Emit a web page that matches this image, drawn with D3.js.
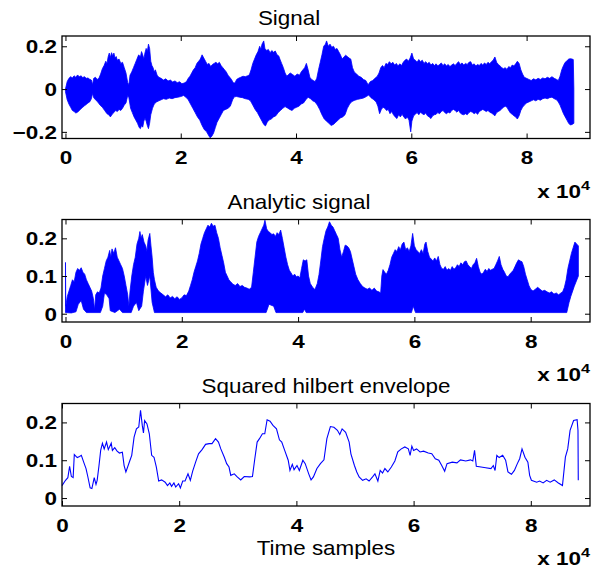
<!DOCTYPE html>
<html>
<head>
<meta charset="utf-8">
<script src="https://cdn.jsdelivr.net/npm/d3@7"></script>
<style>
  body { margin: 0; background: #fff; }
  text { font-family: "Liberation Sans", Arial, sans-serif; }
</style>
</head>
<body>
<div id="chart"></div>
<script>
// x values are in units of 1e4 samples
var sigUpper = [[0,0],[0.03,0.035],[0.06,0.05],[0.09,0.058],[0.12,0.052],[0.15,0.062],[0.18,0.055],[0.21,0.066],[0.24,0.058],[0.27,0.062],[0.3,0.054],[0.33,0.058],[0.36,0.05],[0.39,0.052],[0.42,0.046],[0.45,0.042],[0.47,0.02],[0.49,0.05],[0.52,0.055],[0.55,0.045],[0.58,0.05],[0.61,0.07],[0.64,0.095],[0.67,0.11],[0.7,0.13],[0.72,0.118],[0.74,0.15],[0.76,0.168],[0.78,0.148],[0.8,0.17],[0.82,0.155],[0.84,0.168],[0.86,0.145],[0.88,0.152],[0.9,0.135],[0.93,0.14],[0.96,0.12],[0.99,0.125],[1.02,0.1],[1.05,0.075],[1.08,0.03],[1.1,0.02],[1.12,0.065],[1.15,0.08],[1.18,0.1],[1.21,0.12],[1.24,0.14],[1.27,0.16],[1.3,0.15],[1.32,0.175],[1.34,0.16],[1.36,0.14],[1.38,0.17],[1.4,0.19],[1.42,0.175],[1.44,0.21],[1.46,0.19],[1.48,0.13],[1.5,0.11],[1.52,0.1],[1.54,0.08],[1.56,0.09],[1.59,0.065],[1.62,0.055],[1.66,0.05],[1.7,0.042],[1.74,0.048],[1.78,0.038],[1.82,0.042],[1.86,0.033],[1.9,0.038],[1.94,0.03],[1.98,0.034],[2.02,0.025],[2.06,0.028],[2.1,0.035],[2.13,0.05],[2.16,0.06],[2.19,0.075],[2.22,0.09],[2.25,0.1],[2.28,0.12],[2.31,0.13],[2.34,0.14],[2.37,0.16],[2.4,0.145],[2.43,0.13],[2.46,0.115],[2.49,0.12],[2.52,0.105],[2.55,0.115],[2.58,0.12],[2.61,0.125],[2.64,0.118],[2.67,0.125],[2.7,0.11],[2.73,0.1],[2.76,0.09],[2.79,0.08],[2.82,0.065],[2.85,0.055],[2.88,0.045],[2.91,0.03],[2.94,0.028],[2.97,0.045],[3,0.05],[3.04,0.055],[3.08,0.06],[3.12,0.058],[3.16,0.062],[3.19,0.066],[3.22,0.09],[3.25,0.12],[3.28,0.14],[3.31,0.16],[3.34,0.175],[3.37,0.2],[3.39,0.185],[3.41,0.21],[3.44,0.225],[3.46,0.19],[3.49,0.18],[3.52,0.185],[3.55,0.17],[3.58,0.18],[3.61,0.172],[3.64,0.178],[3.67,0.16],[3.7,0.155],[3.72,0.14],[3.75,0.12],[3.78,0.1],[3.81,0.075],[3.84,0.06],[3.87,0.068],[3.9,0.075],[3.94,0.068],[3.98,0.06],[4.02,0.07],[4.06,0.065],[4.09,0.08],[4.12,0.09],[4.15,0.1],[4.18,0.12],[4.21,0.09],[4.24,0.055],[4.27,0.045],[4.3,0.04],[4.33,0.035],[4.36,0.05],[4.39,0.09],[4.42,0.125],[4.45,0.16],[4.48,0.2],[4.51,0.21],[4.53,0.225],[4.56,0.2],[4.59,0.21],[4.62,0.195],[4.65,0.2],[4.68,0.185],[4.71,0.19],[4.74,0.175],[4.77,0.16],[4.8,0.14],[4.83,0.15],[4.86,0.158],[4.89,0.152],[4.92,0.145],[4.95,0.14],[4.98,0.1],[5.01,0.08],[5.05,0.07],[5.09,0.06],[5.13,0.055],[5.17,0.045],[5.21,0.04],[5.25,0.02],[5.29,0.035],[5.33,0.04],[5.37,0.05],[5.41,0.06],[5.44,0.075],[5.47,0.1],[5.5,0.11],[5.53,0.1],[5.56,0.12],[5.59,0.115],[5.62,0.128],[5.65,0.118],[5.68,0.125],[5.71,0.112],[5.74,0.12],[5.77,0.108],[5.8,0.118],[5.83,0.11],[5.86,0.125],[5.89,0.135],[5.92,0.14],[5.95,0.13],[5.98,0.145],[6.01,0.168],[6.04,0.14],[6.07,0.135],[6.1,0.125],[6.13,0.138],[6.16,0.128],[6.19,0.135],[6.22,0.12],[6.25,0.128],[6.28,0.118],[6.31,0.125],[6.34,0.112],[6.37,0.12],[6.4,0.11],[6.43,0.118],[6.46,0.108],[6.49,0.115],[6.52,0.122],[6.55,0.11],[6.58,0.118],[6.61,0.108],[6.64,0.115],[6.67,0.105],[6.7,0.112],[6.73,0.118],[6.76,0.11],[6.79,0.12],[6.82,0.128],[6.85,0.115],[6.88,0.122],[6.91,0.112],[6.94,0.12],[6.97,0.115],[7,0.125],[7.03,0.128],[7.06,0.112],[7.09,0.118],[7.12,0.108],[7.15,0.115],[7.18,0.11],[7.21,0.12],[7.24,0.112],[7.27,0.122],[7.3,0.115],[7.33,0.125],[7.36,0.118],[7.39,0.128],[7.42,0.135],[7.45,0.15],[7.48,0.125],[7.51,0.115],[7.54,0.108],[7.57,0.1],[7.6,0.095],[7.63,0.1],[7.66,0.092],[7.69,0.105],[7.72,0.1],[7.75,0.112],[7.78,0.108],[7.81,0.118],[7.84,0.13],[7.87,0.12],[7.9,0.09],[7.93,0.07],[7.96,0.055],[8,0.05],[8.04,0.045],[8.08,0.04],[8.12,0.048],[8.16,0.043],[8.2,0.05],[8.24,0.045],[8.28,0.052],[8.32,0.048],[8.36,0.055],[8.4,0.05],[8.44,0.058],[8.48,0.05],[8.52,0.045],[8.55,0.04],[8.58,0.06],[8.61,0.09],[8.64,0.11],[8.67,0.125],[8.7,0.132],[8.73,0.14],[8.76,0.142],[8.79,0.14],[8.81,0.138],[8.82,0]];
var sigLower = [[0,-0.012],[0.03,-0.05],[0.06,-0.07],[0.09,-0.085],[0.12,-0.1],[0.15,-0.105],[0.18,-0.112],[0.21,-0.108],[0.24,-0.1],[0.27,-0.092],[0.3,-0.085],[0.33,-0.078],[0.36,-0.072],[0.39,-0.065],[0.42,-0.06],[0.45,-0.045],[0.47,-0.02],[0.49,-0.04],[0.52,-0.05],[0.56,-0.06],[0.6,-0.075],[0.64,-0.085],[0.68,-0.1],[0.72,-0.115],[0.75,-0.12],[0.78,-0.13],[0.81,-0.118],[0.84,-0.11],[0.87,-0.1],[0.9,-0.105],[0.93,-0.095],[0.96,-0.1],[0.99,-0.09],[1.02,-0.075],[1.05,-0.065],[1.08,-0.03],[1.1,-0.04],[1.13,-0.09],[1.16,-0.11],[1.19,-0.13],[1.22,-0.145],[1.25,-0.16],[1.28,-0.18],[1.3,-0.185],[1.32,-0.17],[1.34,-0.178],[1.36,-0.15],[1.38,-0.135],[1.4,-0.15],[1.42,-0.17],[1.44,-0.185],[1.46,-0.16],[1.48,-0.12],[1.51,-0.09],[1.54,-0.07],[1.58,-0.06],[1.62,-0.055],[1.66,-0.05],[1.7,-0.045],[1.75,-0.048],[1.8,-0.042],[1.85,-0.045],[1.9,-0.04],[1.95,-0.038],[2,-0.035],[2.05,-0.03],[2.09,-0.038],[2.13,-0.05],[2.17,-0.07],[2.21,-0.09],[2.25,-0.11],[2.29,-0.13],[2.33,-0.145],[2.37,-0.17],[2.41,-0.19],[2.45,-0.2],[2.48,-0.215],[2.51,-0.228],[2.54,-0.22],[2.57,-0.205],[2.6,-0.18],[2.63,-0.155],[2.66,-0.14],[2.7,-0.12],[2.74,-0.1],[2.78,-0.095],[2.82,-0.09],[2.86,-0.08],[2.9,-0.05],[2.93,-0.036],[2.97,-0.035],[3.02,-0.038],[3.07,-0.04],[3.12,-0.045],[3.17,-0.048],[3.21,-0.055],[3.25,-0.075],[3.29,-0.095],[3.33,-0.11],[3.37,-0.13],[3.41,-0.15],[3.44,-0.165],[3.47,-0.172],[3.5,-0.155],[3.53,-0.145],[3.57,-0.14],[3.61,-0.13],[3.65,-0.125],[3.69,-0.11],[3.73,-0.1],[3.77,-0.09],[3.81,-0.082],[3.85,-0.088],[3.89,-0.095],[3.93,-0.1],[3.97,-0.09],[4.01,-0.085],[4.05,-0.08],[4.09,-0.07],[4.13,-0.065],[4.17,-0.05],[4.21,-0.038],[4.25,-0.045],[4.29,-0.055],[4.33,-0.06],[4.37,-0.075],[4.41,-0.095],[4.45,-0.12],[4.49,-0.14],[4.53,-0.15],[4.57,-0.16],[4.61,-0.17],[4.65,-0.165],[4.69,-0.155],[4.73,-0.145],[4.77,-0.135],[4.81,-0.13],[4.85,-0.12],[4.89,-0.09],[4.93,-0.07],[4.97,-0.058],[5.02,-0.052],[5.07,-0.048],[5.12,-0.045],[5.17,-0.042],[5.22,-0.035],[5.26,-0.028],[5.3,-0.04],[5.35,-0.05],[5.39,-0.06],[5.42,-0.08],[5.45,-0.115],[5.48,-0.095],[5.51,-0.085],[5.54,-0.09],[5.57,-0.1],[5.6,-0.095],[5.63,-0.115],[5.66,-0.105],[5.69,-0.12],[5.72,-0.13],[5.75,-0.138],[5.78,-0.12],[5.81,-0.13],[5.84,-0.118],[5.87,-0.13],[5.9,-0.14],[5.93,-0.13],[5.96,-0.145],[5.99,-0.2],[6.01,-0.15],[6.04,-0.125],[6.07,-0.118],[6.1,-0.11],[6.13,-0.12],[6.16,-0.108],[6.19,-0.115],[6.22,-0.12],[6.25,-0.112],[6.28,-0.125],[6.31,-0.13],[6.34,-0.138],[6.37,-0.125],[6.4,-0.12],[6.43,-0.118],[6.46,-0.11],[6.49,-0.115],[6.52,-0.105],[6.55,-0.1],[6.58,-0.11],[6.61,-0.115],[6.64,-0.108],[6.67,-0.112],[6.7,-0.1],[6.73,-0.095],[6.76,-0.1],[6.79,-0.108],[6.82,-0.1],[6.85,-0.112],[6.88,-0.118],[6.91,-0.12],[6.94,-0.115],[6.97,-0.12],[7,-0.11],[7.03,-0.105],[7.06,-0.108],[7.09,-0.115],[7.12,-0.11],[7.15,-0.118],[7.18,-0.105],[7.21,-0.1],[7.24,-0.095],[7.27,-0.1],[7.3,-0.105],[7.33,-0.1],[7.36,-0.108],[7.39,-0.112],[7.42,-0.118],[7.45,-0.125],[7.48,-0.11],[7.51,-0.105],[7.54,-0.1],[7.57,-0.092],[7.6,-0.085],[7.63,-0.08],[7.66,-0.085],[7.69,-0.1],[7.72,-0.112],[7.75,-0.118],[7.78,-0.125],[7.81,-0.13],[7.84,-0.14],[7.87,-0.125],[7.9,-0.1],[7.93,-0.085],[7.96,-0.075],[8,-0.065],[8.04,-0.06],[8.08,-0.055],[8.12,-0.05],[8.16,-0.055],[8.2,-0.048],[8.24,-0.052],[8.28,-0.045],[8.32,-0.042],[8.36,-0.045],[8.4,-0.04],[8.44,-0.038],[8.48,-0.045],[8.52,-0.05],[8.55,-0.06],[8.58,-0.075],[8.61,-0.095],[8.64,-0.115],[8.67,-0.13],[8.7,-0.145],[8.73,-0.16],[8.76,-0.168],[8.79,-0.165],[8.82,-0.16]];

var anaUpper = [[0,0.136],[0.005,0.02],[0.03,0.045],[0.06,0.06],[0.09,0.075],[0.12,0.09],[0.15,0.085],[0.18,0.11],[0.21,0.12],[0.24,0.115],[0.27,0.122],[0.3,0.11],[0.33,0.105],[0.36,0.09],[0.39,0.08],[0.42,0.07],[0.45,0.06],[0.48,0.04],[0.5,0.01],[0.52,0.05],[0.55,0.058],[0.58,0.055],[0.61,0.068],[0.64,0.1],[0.67,0.12],[0.7,0.14],[0.73,0.15],[0.76,0.168],[0.78,0.15],[0.8,0.172],[0.83,0.16],[0.86,0.175],[0.89,0.15],[0.92,0.14],[0.95,0.13],[0.98,0.12],[1.01,0.1],[1.04,0.075],[1.07,0.05],[1.09,0.02],[1.11,0.06],[1.14,0.1],[1.17,0.13],[1.2,0.15],[1.23,0.185],[1.26,0.2],[1.28,0.218],[1.3,0.2],[1.32,0.21],[1.35,0.19],[1.38,0.18],[1.4,0.165],[1.42,0.195],[1.45,0.213],[1.47,0.18],[1.49,0.15],[1.51,0.11],[1.53,0.09],[1.56,0.07],[1.6,0.06],[1.64,0.055],[1.68,0.05],[1.72,0.045],[1.76,0.05],[1.8,0.042],[1.84,0.046],[1.88,0.04],[1.92,0.045],[1.96,0.038],[2,0.042],[2.04,0.05],[2.08,0.048],[2.12,0.06],[2.15,0.075],[2.18,0.09],[2.21,0.11],[2.24,0.125],[2.27,0.14],[2.3,0.16],[2.33,0.185],[2.36,0.2],[2.39,0.215],[2.42,0.225],[2.45,0.235],[2.48,0.23],[2.51,0.24],[2.54,0.232],[2.57,0.235],[2.6,0.215],[2.63,0.2],[2.66,0.175],[2.69,0.155],[2.72,0.135],[2.75,0.11],[2.78,0.1],[2.81,0.09],[2.84,0.085],[2.88,0.078],[2.92,0.075],[2.96,0.08],[3,0.072],[3.04,0.075],[3.08,0.07],[3.12,0.068],[3.16,0.065],[3.2,0.07],[3.23,0.11],[3.26,0.15],[3.29,0.19],[3.32,0.205],[3.35,0.215],[3.38,0.225],[3.41,0.235],[3.43,0.248],[3.46,0.225],[3.49,0.218],[3.52,0.215],[3.55,0.21],[3.58,0.212],[3.61,0.205],[3.64,0.215],[3.67,0.21],[3.7,0.222],[3.73,0.2],[3.76,0.175],[3.79,0.15],[3.82,0.13],[3.85,0.115],[3.88,0.108],[3.91,0.1],[3.94,0.105],[3.97,0.098],[4,0.1],[4.03,0.095],[4.06,0.12],[4.09,0.143],[4.12,0.14],[4.15,0.143],[4.18,0.1],[4.21,0.08],[4.25,0.07],[4.29,0.064],[4.33,0.08],[4.36,0.104],[4.39,0.14],[4.42,0.178],[4.45,0.2],[4.48,0.22],[4.51,0.23],[4.54,0.244],[4.57,0.235],[4.6,0.23],[4.63,0.22],[4.66,0.21],[4.69,0.2],[4.72,0.17],[4.75,0.15],[4.78,0.165],[4.81,0.182],[4.84,0.18],[4.87,0.175],[4.9,0.165],[4.93,0.145],[4.96,0.125],[4.99,0.105],[5.03,0.09],[5.07,0.08],[5.11,0.072],[5.15,0.068],[5.19,0.065],[5.23,0.068],[5.27,0.062],[5.31,0.068],[5.35,0.06],[5.39,0.058],[5.42,0.055],[5.44,0.1],[5.46,0.117],[5.49,0.11],[5.52,0.105],[5.55,0.115],[5.58,0.13],[5.61,0.15],[5.64,0.16],[5.67,0.17],[5.7,0.165],[5.73,0.178],[5.76,0.17],[5.79,0.185],[5.82,0.19],[5.85,0.17],[5.88,0.175],[5.91,0.165],[5.94,0.18],[5.97,0.213],[6,0.18],[6.03,0.17],[6.06,0.165],[6.09,0.16],[6.12,0.17],[6.15,0.16],[6.18,0.185],[6.2,0.19],[6.23,0.165],[6.26,0.15],[6.29,0.145],[6.32,0.14],[6.35,0.148],[6.38,0.14],[6.41,0.152],[6.44,0.13],[6.47,0.12],[6.5,0.118],[6.53,0.125],[6.56,0.115],[6.59,0.12],[6.62,0.115],[6.65,0.125],[6.68,0.118],[6.71,0.122],[6.74,0.13],[6.77,0.125],[6.8,0.135],[6.83,0.13],[6.86,0.138],[6.89,0.14],[6.92,0.13],[6.95,0.125],[6.98,0.12],[7.01,0.13],[7.04,0.135],[7.07,0.147],[7.1,0.125],[7.13,0.11],[7.16,0.105],[7.19,0.11],[7.22,0.118],[7.25,0.112],[7.28,0.12],[7.31,0.115],[7.34,0.118],[7.37,0.12],[7.4,0.13],[7.43,0.14],[7.46,0.152],[7.49,0.13],[7.52,0.118],[7.55,0.11],[7.58,0.1],[7.61,0.098],[7.64,0.105],[7.67,0.11],[7.7,0.115],[7.73,0.125],[7.76,0.135],[7.79,0.143],[7.82,0.14],[7.85,0.138],[7.88,0.125],[7.91,0.105],[7.94,0.09],[7.97,0.075],[8,0.065],[8.04,0.06],[8.08,0.065],[8.12,0.07],[8.16,0.065],[8.2,0.06],[8.24,0.062],[8.28,0.058],[8.32,0.055],[8.36,0.058],[8.4,0.052],[8.44,0.055],[8.48,0.05],[8.52,0.055],[8.55,0.058],[8.58,0.07],[8.61,0.09],[8.64,0.12],[8.67,0.14],[8.7,0.16],[8.73,0.175],[8.76,0.19],[8.79,0.185],[8.82,0.18]];
var anaLower = [[0,0.003],[0.1,0.002],[0.18,0.005],[0.22,0.025],[0.27,0.035],[0.31,0.012],[0.36,0.003],[0.6,0.003],[0.64,0.02],[0.67,0.055],[0.71,0.05],[0.75,0.04],[0.77,0.008],[0.85,0.003],[0.93,0.012],[0.98,0.003],[1.13,0.003],[1.17,0.02],[1.22,0.03],[1.26,0.008],[1.31,0.02],[1.34,0.06],[1.38,0.1],[1.41,0.075],[1.45,0.1],[1.49,0.03],[1.53,0.003],[3.45,0.003],[3.5,0.025],[3.58,0.02],[3.62,0.003],[4.08,0.003],[4.11,0.012],[4.14,0.003],[5.95,0.003],[5.98,0.02],[6.02,0.003],[8.62,0.003],[8.66,0.03],[8.69,0.046],[8.75,0.073],[8.82,0.1]];

var envelope = [[0,0.033],[0.06,0.047],[0.1,0.054],[0.13,0.084],[0.16,0.057],[0.19,0.054],[0.21,0.115],[0.26,0.107],[0.3,0.11],[0.33,0.113],[0.37,0.095],[0.41,0.078],[0.44,0.057],[0.48,0.027],[0.51,0.025],[0.55,0.054],[0.58,0.036],[0.6,0.047],[0.63,0.084],[0.66,0.126],[0.69,0.145],[0.72,0.13],[0.76,0.148],[0.79,0.128],[0.84,0.145],[0.86,0.126],[0.9,0.133],[0.94,0.124],[0.98,0.119],[1.03,0.121],[1.06,0.086],[1.09,0.069],[1.12,0.082],[1.16,0.1],[1.19,0.113],[1.23,0.161],[1.27,0.183],[1.31,0.188],[1.34,0.232],[1.37,0.192],[1.39,0.172],[1.41,0.205],[1.45,0.196],[1.49,0.17],[1.53,0.113],[1.57,0.108],[1.61,0.082],[1.65,0.045],[1.7,0.048],[1.76,0.042],[1.8,0.033],[1.84,0.04],[1.87,0.031],[1.91,0.04],[1.94,0.029],[1.99,0.038],[2.02,0.027],[2.06,0.045],[2.1,0.045],[2.15,0.064],[2.19,0.047],[2.23,0.071],[2.28,0.095],[2.33,0.117],[2.39,0.128],[2.45,0.142],[2.51,0.144],[2.56,0.144],[2.62,0.157],[2.67,0.148],[2.71,0.13],[2.77,0.108],[2.81,0.091],[2.85,0.082],[2.88,0.06],[2.94,0.064],[2.99,0.056],[3.05,0.048],[3.11,0.057],[3.2,0.056],[3.25,0.057],[3.29,0.104],[3.33,0.148],[3.37,0.157],[3.42,0.17],[3.46,0.17],[3.5,0.207],[3.55,0.203],[3.6,0.192],[3.66,0.183],[3.71,0.154],[3.75,0.148],[3.8,0.126],[3.86,0.1],[3.89,0.073],[3.93,0.089],[3.96,0.075],[4.01,0.086],[4.05,0.073],[4.11,0.1],[4.15,0.091],[4.21,0.064],[4.25,0.048],[4.29,0.056],[4.35,0.078],[4.41,0.091],[4.47,0.101],[4.52,0.157],[4.58,0.189],[4.64,0.187],[4.7,0.179],[4.74,0.168],[4.78,0.183],[4.84,0.174],[4.9,0.148],[4.93,0.117],[4.99,0.086],[5.03,0.069],[5.07,0.056],[5.13,0.047],[5.19,0.051],[5.24,0.045],[5.3,0.056],[5.34,0.064],[5.39,0.045],[5.43,0.073],[5.47,0.066],[5.51,0.078],[5.56,0.069],[5.62,0.082],[5.68,0.098],[5.73,0.122],[5.79,0.13],[5.85,0.135],[5.91,0.13],[5.94,0.113],[5.97,0.137],[6,0.126],[6.05,0.13],[6.11,0.122],[6.17,0.124],[6.25,0.119],[6.31,0.117],[6.37,0.104],[6.43,0.1],[6.48,0.086],[6.53,0.071],[6.57,0.091],[6.66,0.095],[6.74,0.093],[6.8,0.101],[6.89,0.098],[6.97,0.101],[7.01,0.098],[7.04,0.126],[7.07,0.084],[7.15,0.082],[7.23,0.08],[7.32,0.078],[7.36,0.086],[7.39,0.073],[7.42,0.113],[7.46,0.107],[7.52,0.113],[7.57,0.1],[7.61,0.069],[7.67,0.063],[7.72,0.073],[7.77,0.091],[7.81,0.104],[7.85,0.13],[7.9,0.108],[7.95,0.095],[7.98,0.06],[8.01,0.047],[8.1,0.042],[8.15,0.045],[8.21,0.04],[8.27,0.047],[8.33,0.042],[8.4,0.048],[8.47,0.04],[8.54,0.033],[8.59,0.108],[8.63,0.13],[8.67,0.179],[8.73,0.205],[8.79,0.207],[8.805,0.179],[8.81,0.047]];

var titles = ["Signal", "Analytic signal", "Squared hilbert envelope"];
var xLabel = "Time samples";
var xTicks = [0, 2, 4, 6, 8];
var sigYTicks = [-0.2, 0, 0.2];
var posYTicks = [0, 0.1, 0.2];

var svgWidth = 602;
var svgHeight = 572;
var boxLeft = 62;
var boxW = 528;
var boxH = 102.5;
var tickLen = 5;
var boldStretch = 1.25;
var titleStretch = 1.12;
var blue = "#0000ff";

var svg = d3.select("#chart")
    .append("svg")
    .attr("width", svgWidth)
    .attr("height", svgHeight);

var fmt = d => d === 0 ? "0" : d3.format(".1f")(d);

function drawPanel(top, xDomain, yDomain, yTicks, title, titleX) {
    var g = svg.append("g").attr("transform", `translate(${boxLeft},${top})`);
    var x = d3.scaleLinear().domain(xDomain).range([0, boxW]);
    var y = d3.scaleLinear().domain(yDomain).range([boxH, 0]);
    var marks = g.append("g");

    // ticks inside the box on all four sides
    g.append("g").attr("transform", `translate(0,${boxH})`)
        .call(d3.axisBottom(x).tickValues(xTicks).tickSize(-tickLen).tickFormat(d3.format("d")))
        .call(a => a.selectAll("text")
            .attr("y", 26).attr("dy", 0)
            .attr("transform", `scale(${boldStretch},1)`));
    g.append("g")
        .call(d3.axisTop(x).tickValues(xTicks).tickSize(-tickLen).tickFormat(""));
    g.append("g")
        .call(d3.axisLeft(y).tickValues(yTicks).tickSize(-tickLen).tickFormat(fmt))
        .call(a => a.selectAll("text")
            .attr("x", -5 / boldStretch).attr("dy", "0.36em")
            .attr("transform", `scale(${boldStretch},1)`));
    g.append("g").attr("transform", `translate(${boxW},0)`)
        .call(d3.axisRight(y).tickValues(yTicks).tickSize(-tickLen).tickFormat(""));

    g.selectAll(".domain").remove();
    g.selectAll(".tick line").attr("stroke", "#000").attr("stroke-width", 1);
    g.selectAll(".tick text")
        .attr("font-family", "Liberation Sans, Arial, sans-serif")
        .attr("font-size", "18px")
        .attr("font-weight", "bold")
        .attr("fill", "#000");

    g.append("rect")
        .attr("width", boxW)
        .attr("height", boxH)
        .attr("fill", "none")
        .attr("stroke", "#000")
        .attr("stroke-width", 1.3);

    g.append("text")
        .attr("transform", `translate(${titleX - boxLeft},-11) scale(${titleStretch},1)`)
        .attr("text-anchor", "middle")
        .attr("font-size", "20px")
        .text(title);

    var expo = g.append("text")
        .attr("transform", `translate(${boxW},${boxH + 59}) scale(${boldStretch},1)`)
        .attr("text-anchor", "end")
        .attr("font-size", "18px")
        .attr("font-weight", "bold");
    expo.append("tspan").text("x 10");
    expo.append("tspan").attr("dy", -8).attr("font-size", "13px").text("4");

    return {g: g, marks: marks, x: x, y: y};
}

function band(p, upper, lower) {
    var pts = upper.concat(lower.slice().reverse());
    var line = d3.line().x(d => p.x(d[0])).y(d => p.y(d[1]));
    p.marks.append("path")
        .attr("d", line(pts) + "Z")
        .attr("fill", blue)
        .attr("stroke", blue)
        .attr("stroke-width", 0.8)
        .attr("stroke-linejoin", "miter");
}

var p1 = drawPanel(36, [-0.06, 9.1], [-0.231, 0.248], sigYTicks, titles[0], 289);
band(p1, sigUpper, sigLower);

var p2 = drawPanel(219.5, [-0.06, 9.02], [-0.022, 0.25], posYTicks, titles[1], 299);
band(p2, anaUpper, anaLower);

var p3 = drawPanel(403.5, [0, 9.01], [-0.021, 0.25], posYTicks, titles[2], 326);
p3.marks.append("path")
    .datum(envelope)
    .attr("d", d3.line().x(d => p3.x(d[0])).y(d => p3.y(d[1])))
    .attr("fill", "none")
    .attr("stroke", blue)
    .attr("stroke-width", 1.1);

svg.append("text")
    .attr("transform", `translate(326,555) scale(${titleStretch},1)`)
    .attr("text-anchor", "middle")
    .attr("font-size", "20px")
    .text(xLabel);
</script>
</body>
</html>
